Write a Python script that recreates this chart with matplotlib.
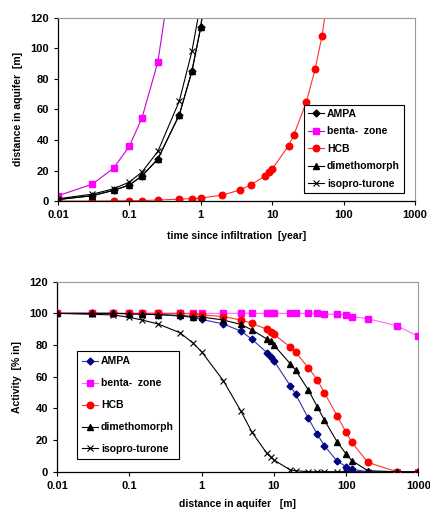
import numpy as np
import matplotlib.pyplot as plt
from matplotlib.ticker import FixedLocator, FixedFormatter, NullLocator

plt.rcParams['font.family'] = ['Liberation Sans', 'DejaVu Sans']
plt.rcParams['font.weight'] = 'bold'

# top chart: distance travelled vs time
t_years = [0.01, 0.03, 0.06, 0.1, 0.15, 0.25, 0.5, 0.75, 1, 2, 3.5, 5, 8, 9, 10,
           17, 20, 30, 40, 50, 75]
top_ampa = [1, 3.5, 7, 10.5, 16.5, 27.5, 56.5, 85, 114, 230]
top_benta = [3.5, 11, 21.5, 36, 54.5, 91, 185]
top_hcb = [0, 0, 0.1, 0.2, 0.3, 0.7, 1.2, 1.6, 2, 3.9, 7.2, 10.5, 16.6, 18.8, 21,
           36.3, 43, 64.7, 86.4, 108.4, 165]
top_dime = [1, 3.5, 7, 10.5, 16.5, 27.5, 56.5, 85, 114, 230]
top_iso = [1.5, 4.5, 8, 12.5, 19, 32.5, 65.5, 98, 130]

# bottom chart: remaining activity vs distance
dist_m = [0.01, 0.03, 0.06, 0.1, 0.15, 0.25, 0.5, 0.75, 1, 2, 3.5, 5, 8, 9, 10,
          17, 20, 30, 40, 50, 75, 100, 120, 200, 500, 1000]
act_ampa = [100, 100, 100, 99.8, 99.5, 99.2, 98.3, 97.5, 96.2, 93.3, 88.8, 83.6,
            75.2, 72.6, 70.1, 54.1, 49, 33.7, 23.6, 16.4, 6.7, 3.2, 1.5, 0, 0, 0]
act_benta = [100, 100, 100, 100, 100, 100, 100, 100, 100, 100, 100, 100, 100, 100,
             100, 100, 100, 100, 100, 99.4, 99.4, 99, 98, 96.6, 92.2, 85.5]
act_hcb = [100, 100, 100, 100, 100, 100, 100, 99.6, 99, 98, 95.8, 93.7, 89.9, 88.4,
           86.9, 78.5, 75.4, 65.7, 57.9, 49.9, 35.4, 24.8, 18.5, 5.9, 0, 0]
act_dime = [100, 100, 100, 99.7, 99.5, 99.2, 98.7, 98, 97.7, 95.8, 93, 89.5, 83.8,
            82.5, 80, 68, 64.2, 51.6, 41, 32.6, 18.9, 11.2, 7, 0.6, 0, 0]
act_iso = [100, 99.4, 99, 97.5, 95.8, 93.3, 87.8, 81.5, 75.8, 57.5, 38.3, 24.8,
           11.6, 9.5, 7.4, 1, 0.6, 0, 0, 0, 0, 0, 0, 0, 0, 0]

names = ['AMPA', 'benta-  zone', 'HCB', 'dimethomorph', 'isopro-turone']
xticks = [0.01, 0.1, 1, 10, 100, 1000]
xtick_labels = ['0.01', '0.1', '1', '10', '100', '1000']

fig = plt.figure(figsize=(4.3, 5.09), dpi=100)
ax1 = fig.add_axes([0.135, 0.605, 0.83, 0.36])
ax2 = fig.add_axes([0.1326, 0.0733, 0.8404, 0.3733])


def style(ax, xlabel, ylabel, lab_y):
    ax.set_xscale('log')
    ax.set_xlim(0.01, 1000)
    ax.set_ylim(0, 120)
    ax.xaxis.set_major_locator(FixedLocator(xticks))
    ax.xaxis.set_major_formatter(FixedFormatter(xtick_labels))
    ax.xaxis.set_minor_locator(NullLocator())
    ax.set_yticks(np.arange(0, 121, 20))
    ax.tick_params(labelsize=8, length=3, width=0.8, direction='out')
    for lab in ax.get_xticklabels() + ax.get_yticklabels():
        lab.set_fontweight('bold')
    for s in ['top', 'right']:
        ax.spines[s].set_color('#999999')
        ax.spines[s].set_linewidth(0.8)
    for s in ['left', 'bottom']:
        ax.spines[s].set_linewidth(0.9)
    ax.set_xlabel(xlabel, fontsize=7.5, fontweight='bold', labelpad=lab_y)
    ax.set_ylabel(ylabel, fontsize=7.5, fontweight='bold', labelpad=5)


ms = 4.7
lw = 0.8

# top chart
ax1.plot(t_years[:len(top_ampa)], top_ampa, color='black', marker='D', ms=3.5, lw=lw, label=names[0])
ax1.plot(t_years[:len(top_benta)], top_benta, color='#CC00CC', marker='s', ms=ms,
         mfc='#FF00FF', mec='#FF00FF', lw=lw, label=names[1])
ax1.plot(t_years[:len(top_hcb)], top_hcb, color='#FF3333', marker='o', ms=ms,
         mfc='red', mec='red', lw=lw, label=names[2])
ax1.plot(t_years[:len(top_dime)], top_dime, color='black', marker='^', ms=ms, lw=lw, label=names[3])
ax1.plot(t_years[:len(top_iso)], top_iso, color='black', marker='x', ms=ms, mew=0.8, lw=lw, label=names[4])
style(ax1, 'time since infiltration  [year]', 'distance in aquifer  [m]', 8)
leg1 = ax1.legend(loc='lower right', bbox_to_anchor=(0.969, 0.044), fontsize=7.5,
                  frameon=True, fancybox=False, edgecolor='black', handlelength=1.5,
                  handletextpad=0.3, borderpad=0.4, labelspacing=0.72, borderaxespad=0,
                  framealpha=1)
leg1.get_frame().set_linewidth(0.8)
for t in leg1.get_texts():
    t.set_fontweight('bold')

# bottom chart
ax2.plot(dist_m, act_iso, color='black', marker='x', ms=ms, mew=0.8, lw=lw, label=names[4], zorder=2)
ax2.plot(dist_m, act_ampa, color='#3333AA', marker='D', ms=3.5, mfc='#000080', mec='#000080',
         lw=lw, label=names[0], zorder=3)
ax2.plot(dist_m, act_benta, color='#FF66FF', marker='s', ms=ms, mfc='#FF00FF', mec='#FF00FF',
         lw=lw, label=names[1], zorder=4)
ax2.plot(dist_m, act_hcb, color='#FF3333', marker='o', ms=ms, mfc='red', mec='red', lw=lw,
         label=names[2], zorder=5)
ax2.plot(dist_m, act_dime, color='black', marker='^', ms=ms, lw=lw, label=names[3], zorder=6)
style(ax2, 'distance in aquifer   [m]', 'Activity  [% in]', 6)
h, l = ax2.get_legend_handles_labels()
order = [1, 2, 3, 4, 0]
leg2 = ax2.legend([h[i] for i in order], [l[i] for i in order], loc='lower left',
                  bbox_to_anchor=(0.055, 0.065), fontsize=7.5, frameon=True, fancybox=False,
                  edgecolor='black', handlelength=1.5, handletextpad=0.3, borderpad=0.5,
                  labelspacing=1.15, borderaxespad=0, framealpha=1)
leg2.get_frame().set_linewidth(0.8)
for t in leg2.get_texts():
    t.set_fontweight('bold')

fig.savefig('out.png', dpi=100)
